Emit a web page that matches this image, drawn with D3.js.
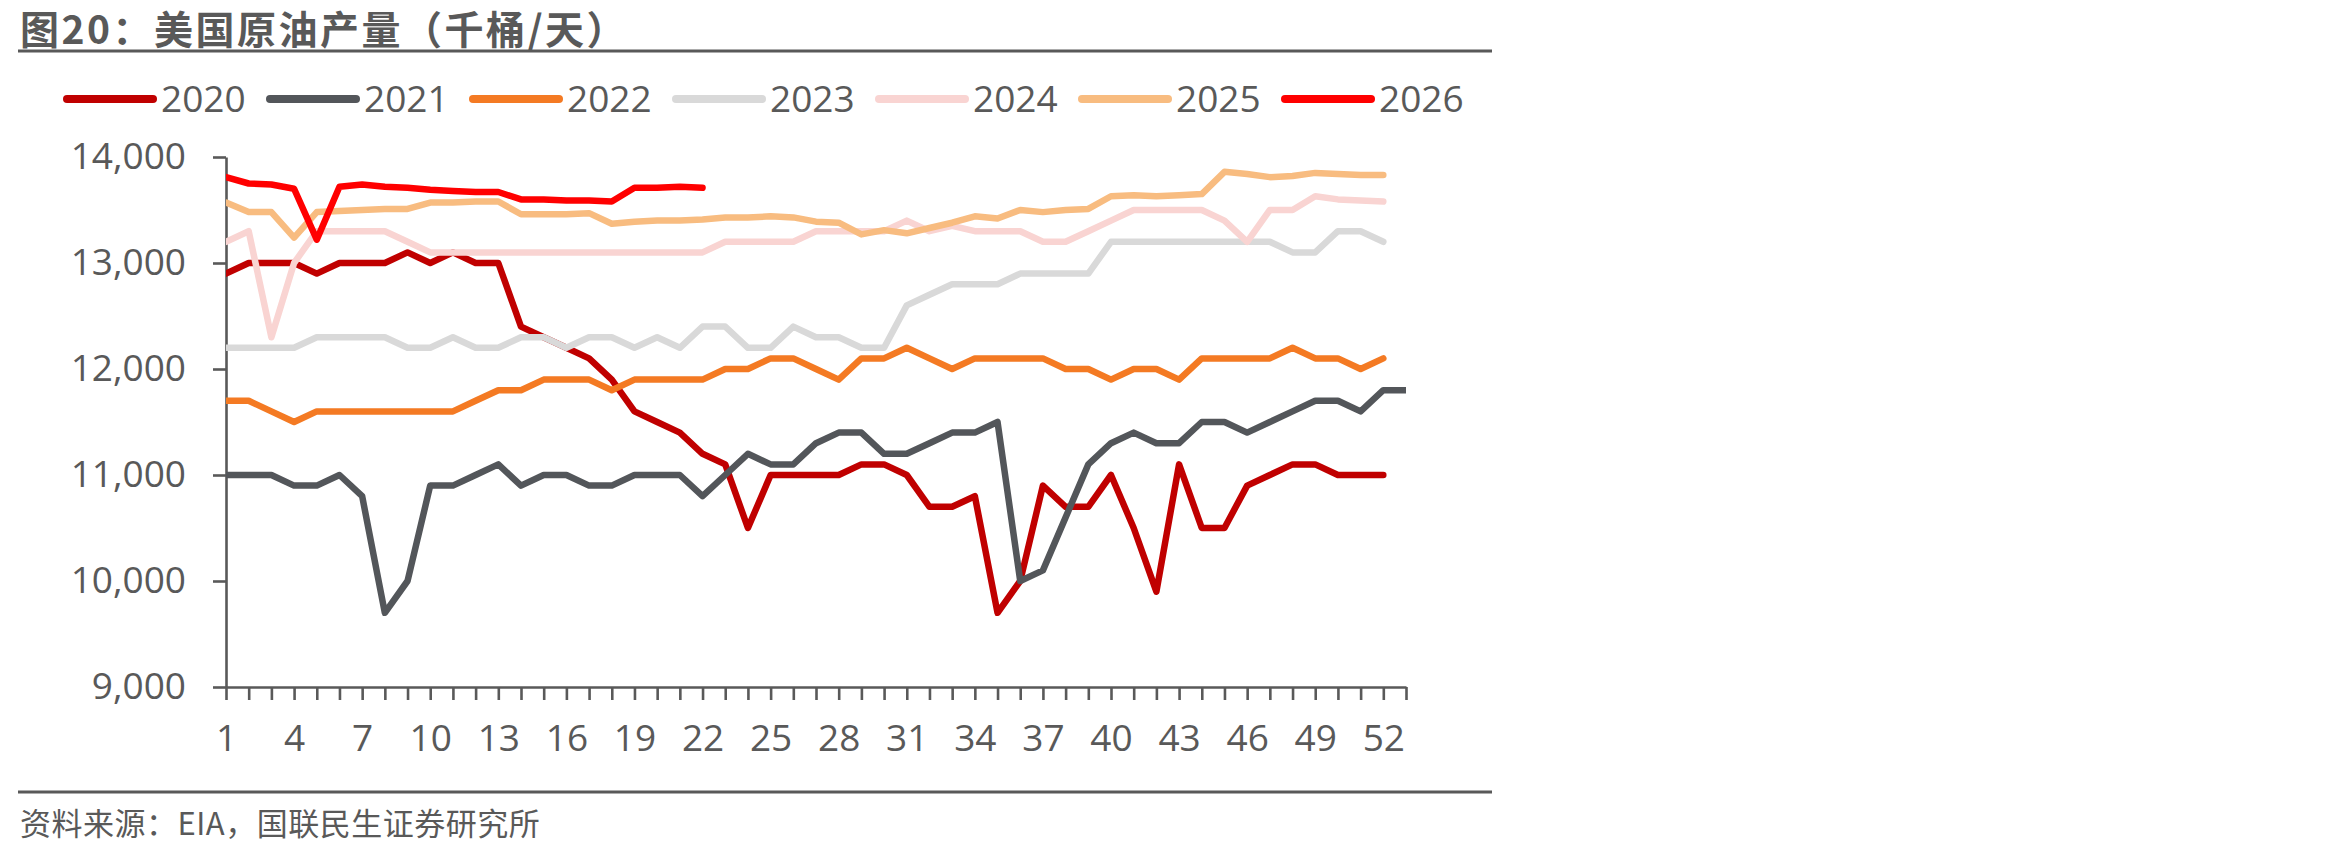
<!DOCTYPE html>
<html>
<head>
<meta charset="utf-8">
<script src="https://cdn.jsdelivr.net/npm/d3@7"></script>
<style>
  html, body { margin: 0; padding: 0; background: #fff; }
</style>
</head>
<body>
<div id="chart"></div>
<script>
// Weekly US crude output, thousand barrels/day (week index 1..53)
const years = ["2020", "2021", "2022", "2023", "2024", "2025", "2026"];
const colors = ["#C00000", "#53565A", "#F47A23", "#D9D9D9", "#F9D4D2", "#F8BC80", "#FF0000"];

const v2020 = [12900, 13000, 13000, 13000, 12900, 13000, 13000, 13000, 13100, 13000,
    13100, 13000, 13000, 12400, 12300, 12200, 12100, 11900, 11600, 11500,
    11400, 11200, 11100, 10500, 11000, 11000, 11000, 11000, 11100, 11100,
    11000, 10700, 10700, 10800, 9700, 10000, 10900, 10700, 10700, 11000,
    10500, 9900, 11100, 10500, 10500, 10900, 11000, 11100, 11100, 11000,
    11000, 11000];
const v2021 = [11000, 11000, 11000, 10900, 10900, 11000, 10800, 9700, 10000, 10900,
    10900, 11000, 11100, 10900, 11000, 11000, 10900, 10900, 11000, 11000,
    11000, 10800, 11000, 11200, 11100, 11100, 11300, 11400, 11400, 11200,
    11200, 11300, 11400, 11400, 11500, 10000, 10100, 10600, 11100, 11300,
    11400, 11300, 11300, 11500, 11500, 11400, 11500, 11600, 11700, 11700,
    11600, 11800, 11800];
const v2022 = [11700, 11700, 11600, 11500, 11600, 11600, 11600, 11600, 11600, 11600,
    11600, 11700, 11800, 11800, 11900, 11900, 11900, 11800, 11900, 11900,
    11900, 11900, 12000, 12000, 12100, 12100, 12000, 11900, 12100, 12100,
    12200, 12100, 12000, 12100, 12100, 12100, 12100, 12000, 12000, 11900,
    12000, 12000, 11900, 12100, 12100, 12100, 12100, 12200, 12100, 12100,
    12000, 12100];
const v2023 = [12200, 12200, 12200, 12200, 12300, 12300, 12300, 12300, 12200, 12200,
    12300, 12200, 12200, 12300, 12300, 12200, 12300, 12300, 12200, 12300,
    12200, 12400, 12400, 12200, 12200, 12400, 12300, 12300, 12200, 12200,
    12600, 12700, 12800, 12800, 12800, 12900, 12900, 12900, 12900, 13200,
    13200, 13200, 13200, 13200, 13200, 13200, 13200, 13100, 13100, 13300,
    13300, 13200];
const v2024 = [13200, 13300, 12300, 13000, 13300, 13300, 13300, 13300, 13200, 13100,
    13100, 13100, 13100, 13100, 13100, 13100, 13100, 13100, 13100, 13100,
    13100, 13100, 13200, 13200, 13200, 13200, 13300, 13300, 13300, 13300,
    13400, 13300, 13350, 13300, 13300, 13300, 13200, 13200, 13300, 13400,
    13500, 13500, 13500, 13500, 13400, 13200, 13500, 13500, 13630, 13600,
    13590, 13580];
const v2025 = [13570, 13480, 13480, 13240, 13480, 13490, 13500, 13510, 13510, 13570,
    13570, 13580, 13580, 13460, 13460, 13460, 13470, 13370, 13390, 13400,
    13400, 13410, 13430, 13430, 13440, 13430, 13390, 13380, 13270, 13310,
    13280, 13330, 13380, 13440, 13420, 13500, 13480, 13500, 13510, 13630,
    13640, 13630, 13640, 13650, 13860, 13840, 13810, 13820, 13850, 13840,
    13830, 13830];
const v2026 = [13810, 13750, 13740, 13700, 13220, 13720, 13740, 13720, 13710, 13690,
    13680, 13670, 13670, 13600, 13600, 13590, 13590, 13580, 13710, 13710,
    13720, 13710];

const seriesValues = [v2020, v2021, v2022, v2023, v2024, v2025, v2026];
const yTicks = [9000, 10000, 11000, 12000, 13000, 14000];
const weeks = d3.range(1, 54);
const xLabels = [1, 4, 7, 10, 13, 16, 19, 22, 25, 28, 31, 34, 37, 40, 43, 46, 49, 52];

const title = "图20：美国原油产量（千桶/天）";
const source = "资料来源：EIA，国联民生证券研究所";

const width = 2328;
const height = 854;
const ink = "#595959";
const numFont = "'Open Sans', 'Noto Sans', sans-serif";
const cjkFont = "'Noto Sans CJK SC', sans-serif";

const svg = d3.select("#chart")
    .append("svg")
    .attr("width", width)
    .attr("height", height)
    .style("display", "block")
    .style("background", "#fff");

const x = d3.scaleLinear().domain([1, 53]).range([226, 1406]);
const y = d3.scaleLinear().domain([9000, 14000]).range([687, 157]);

// Title and rule lines
svg.append("text")
    .attr("x", 20)
    .attr("y", 44)
    .attr("fill", ink)
    .attr("font-family", cjkFont)
    .attr("font-weight", "bold")
    .attr("font-size", "39px")
    .attr("letter-spacing", "2.5px")
    .text(title);

svg.append("line")
    .attr("x1", 18).attr("x2", 1492)
    .attr("y1", 51).attr("y2", 51)
    .attr("stroke", ink)
    .attr("stroke-width", 3);

svg.append("line")
    .attr("x1", 18).attr("x2", 1492)
    .attr("y1", 792).attr("y2", 792)
    .attr("stroke", ink)
    .attr("stroke-width", 3);

svg.append("text")
    .attr("x", 20)
    .attr("y", 835)
    .attr("fill", ink)
    .attr("font-family", cjkFont)
    .attr("font-size", "31px")
    .attr("letter-spacing", "0.5px")
    .text(source);

// Legend
const legend = svg.append("g")
    .selectAll("g")
    .data(years)
    .join("g")
    .attr("transform", (d, i) => `translate(${67 + i * 203},99)`);

legend.append("line")
    .attr("x1", 0).attr("x2", 86)
    .attr("stroke", (d, i) => colors[i])
    .attr("stroke-width", 8)
    .attr("stroke-linecap", "round");

legend.append("text")
    .attr("x", 94)
    .attr("dy", "0.36em")
    .attr("fill", ink)
    .attr("font-family", numFont)
    .attr("font-size", "37px")
    .text(d => d);

// Axes
const yAxis = svg.append("g")
    .attr("transform", `translate(${x(1)},0)`)
    .call(d3.axisLeft(y)
        .tickValues(yTicks)
        .tickSize(13)
        .tickSizeOuter(0)
        .tickPadding(27)
        .tickFormat(d3.format(",")));

const xAxis = svg.append("g")
    .attr("transform", `translate(0,${y(9000)})`)
    .call(d3.axisBottom(x)
        .tickValues(weeks)
        .tickSize(13)
        .tickSizeOuter(0)
        .tickPadding(25)
        .tickFormat(d => xLabels.includes(d) ? d : ""));

[yAxis, xAxis].forEach(g => {
    g.selectAll("path, line")
        .attr("stroke", ink)
        .attr("stroke-width", 2.6);
    g.selectAll("text")
        .attr("fill", ink)
        .attr("font-family", numFont)
        .attr("font-size", "37px");
});

// Series lines
svg.append("clipPath")
    .attr("id", "plot-clip")
    .append("rect")
    .attr("x", x(1))
    .attr("y", 0)
    .attr("width", x(53) - x(1))
    .attr("height", height);

const line = d3.line()
    .x((d, i) => x(i + 1))
    .y(d => y(d));

svg.append("g")
    .attr("clip-path", "url(#plot-clip)")
    .selectAll("path")
    .data(seriesValues)
    .join("path")
    .attr("d", d => line(d))
    .attr("fill", "none")
    .attr("stroke", (d, i) => colors[i])
    .attr("stroke-width", 6.5)
    .attr("stroke-linejoin", "round")
    .attr("stroke-linecap", "round");
</script>
</body>
</html>
